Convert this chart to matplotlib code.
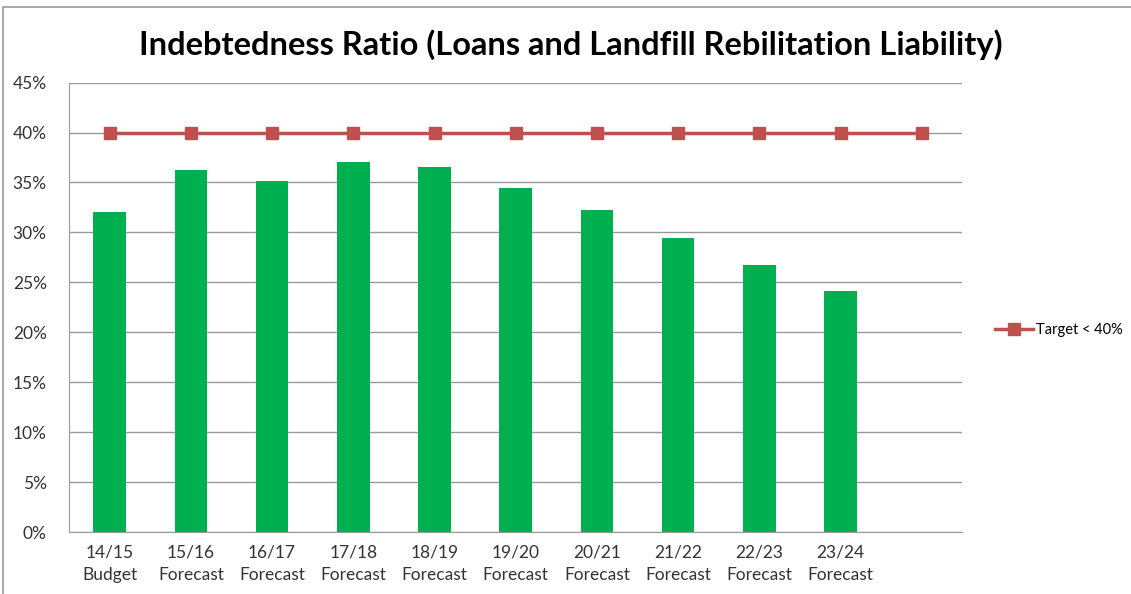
import matplotlib
matplotlib.use("Agg")
import matplotlib.pyplot as plt
from matplotlib.ticker import PercentFormatter
from matplotlib.patches import Rectangle

# indebtedness ratio per financial year (%)
years = ["14/15\nBudget", "15/16\nForecast", "16/17\nForecast", "17/18\nForecast",
         "18/19\nForecast", "19/20\nForecast", "20/21\nForecast", "21/22\nForecast",
         "22/23\nForecast", "23/24\nForecast", ""]
ratio = [32.0, 36.2, 35.1, 37.1, 36.6, 34.4, 32.2, 29.4, 26.7, 24.1]
target = [40] * 11

plt.rcParams['font.family'] = ['Lato', 'DejaVu Sans']

fig = plt.figure(figsize=(11.31, 5.94), dpi=100)
ax = fig.add_axes([0.061, 0.104, 0.790, 0.757])

x = list(range(len(years)))
ax.bar(x[:len(ratio)], ratio, width=0.40, color="#00B050", zorder=2)
ax.plot(x, target, color="#C0504D", lw=2.5, marker="s", ms=9,
        label="Target < 40%", zorder=3)

ax.set_xlim(-0.5, len(years) - 0.5)
ax.set_ylim(0, 45)
ax.set_yticks(range(0, 46, 5))
ax.yaxis.set_major_formatter(PercentFormatter(decimals=0))
ax.set_xticks(x)
ax.set_xticklabels(years, fontsize=12.5, color="#333333", linespacing=1.45)
ax.tick_params(axis="y", labelsize=12.5, colors="#333333", length=0, pad=16)
ax.tick_params(axis="x", length=0, pad=9)
ax.grid(axis="y", color="#999999", lw=1, zorder=0)
for s in ["top", "right"]:
    ax.spines[s].set_visible(False)
ax.spines["left"].set_color("#999999")
ax.spines["bottom"].set_color("#999999")

fig.text(0.505, 0.925, "Indebtedness Ratio (Loans and Landfill Rebilitation Liability)",
         fontsize=23.5, fontweight="bold", ha="center", va="center")

fig.legend(loc="center left", bbox_to_anchor=(0.868, 0.445), frameon=False,
           fontsize=10.5, handlelength=2.6, handletextpad=0.2)

# outer chart frame
fig.patches.append(Rectangle((0.003, -0.1), 1.1, 1.088, transform=fig.transFigure,
                             fill=False, edgecolor="#999999", lw=1.2))

fig.savefig("out.png", dpi=100)
